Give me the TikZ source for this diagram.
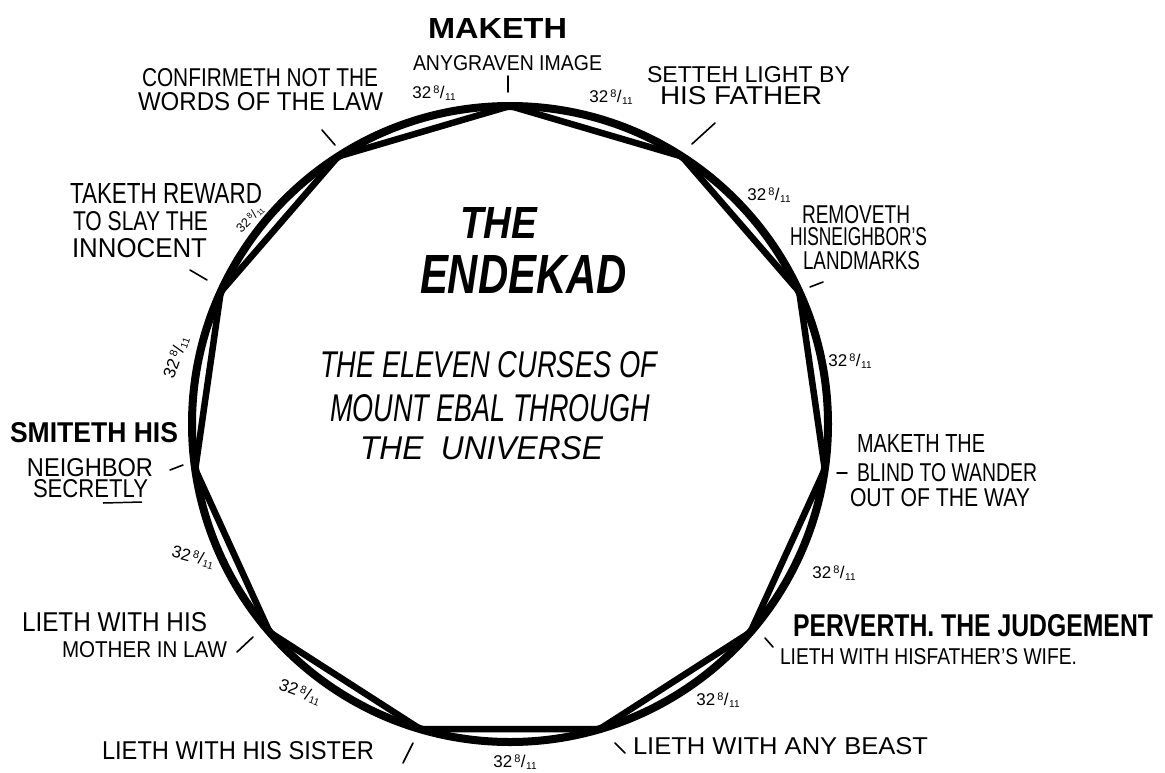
\documentclass[tikz,border=0pt]{standalone}
\usepackage{fontspec}
\setmainfont{Liberation Sans}
\usepackage{graphicx}
\newcommand{\fitbox}[3]{\resizebox{#1pt}{#2pt}{#3}}
\newcommand{\tto}{{\fontsize{17}{17}\selectfont 32\kern2pt\raisebox{5pt}{\fontsize{11}{11}\selectfont 8}\kern0.5pt/\kern0.5pt\raisebox{-2pt}{\fontsize{10}{10}\selectfont 11}}}
\begin{document}
\begin{tikzpicture}[x=1pt,y=-1pt,
  lab/.style={inner sep=0pt,outer sep=0pt,anchor=south west},
  frac/.style={inner sep=0pt,outer sep=0pt},
  ring/.style={line width=8pt},
  poly/.style={line width=6.5pt,line join=round},
  lead/.style={line width=1.6pt,line cap=round}]
\useasboundingbox[fill=white] (0,0) rectangle (1165,772);
\coordinate (c) at (510,424);
\draw[ring] (c) circle[radius=318];
\foreach \k in {0,...,10}
  \coordinate (v\k) at ([shift={(c)}]{\k*360/11-90}:318);
\draw[poly] (v0) \foreach \k in {1,...,10}{ -- (v\k)} -- cycle;

% leaders
\coordinate (t0a) at (508,76);  \coordinate (t0b) at (508,92);
\coordinate (t1a) at (692,144); \coordinate (t1b) at (715,123);
\coordinate (t2a) at (810,287); \coordinate (t2b) at (823,282);
\coordinate (t3a) at (837,473); \coordinate (t3b) at (847,473);
\coordinate (t4a) at (765,638); \coordinate (t4b) at (773,647);
\coordinate (t5a) at (615,743); \coordinate (t5b) at (625,753);
\coordinate (t6a) at (403,763); \coordinate (t6b) at (413,743);
\coordinate (t7a) at (237,652); \coordinate (t7b) at (253,637);
\coordinate (t8a) at (170,470); \coordinate (t8b) at (183,465);
\coordinate (t9a) at (190,270); \coordinate (t9b) at (207,280);
\coordinate (t10a) at (322,130); \coordinate (t10b) at (335,145);
\foreach \k in {0,...,10} \draw[lead] (t\k a) -- (t\k b);

% 32 8/11 labels
\node[frac] (f1) at (434,93) {\tto};
\node[frac] (f2) at (611,97) {\tto};
\node[frac] (f3) at (769,195) {\tto};
\node[frac] (f4) at (850,361) {\tto};
\node[frac] (f5) at (834,573) {\tto};
\node[frac] (f6) at (718,700) {\tto};
\node[frac] (f7) at (515,762) {\tto};
\node[frac,rotate=-20] (f8) at (300,692) {\tto};
\node[frac,rotate=-15] (f9) at (193,557) {\tto};
\node[frac,rotate=70] (f10) at (176,357) {\tto};
\node[frac,rotate=45,scale=0.75] (f11) at (250,219) {\tto};

% top
\node[lab] (mak1) at (428,38) {\fitbox{139}{20}{\bfseries MAKETH}};
\node[lab] (mak2) at (413,71) {\fitbox{189}{15}{ANYGRAVEN IMAGE}};
\node[lab] (con1) at (142,87) {\fitbox{236}{18}{CONFIRMETH NOT THE}};
\node[lab] (con2) at (138,111) {\fitbox{245}{18}{WORDS OF THE LAW}};
\node[lab] (set1) at (647,83) {\fitbox{203}{16}{SETTEH LIGHT BY}};
\node[lab] (set2) at (660,105) {\fitbox{162}{18}{HIS FATHER}};
% right
\node[lab] (rem1) at (802,224) {\fitbox{108}{18}{REMOVETH}};
\node[lab] (rem2) at (790,246) {\fitbox{137}{18}{HISNEIGHBOR'S}};
\node[lab] (rem3) at (803,270) {\fitbox{117}{18}{LANDMARKS}};
\node[lab] (bli1) at (857,452) {\fitbox{128}{18}{MAKETH THE}};
\node[lab] (bli2) at (857,482) {\fitbox{180}{18}{BLIND TO WANDER}};
\node[lab] (bli3) at (850,507) {\fitbox{180}{18}{OUT OF THE WAY}};
\node[lab] (per1) at (793,637) {\fitbox{360}{22}{\bfseries PERVERTH. THE JUDGEMENT}};
\node[lab] (per2) at (780,665) {\fitbox{297}{16}{LIETH WITH HISFATHER'S WIFE.}};
% bottom
\node[lab] (bea) at (633,755) {\fitbox{295}{17}{LIETH WITH ANY BEAST}};
\node[lab] (sis) at (102,760) {\fitbox{272}{18}{LIETH WITH HIS SISTER}};
\node[lab] (mot1) at (22,632) {\fitbox{185}{19}{LIETH WITH HIS}};
\node[lab] (mot2) at (62,658) {\fitbox{165}{16}{MOTHER IN LAW}};
% left
\node[lab] (smi1) at (10,443) {\fitbox{168}{20}{\bfseries SMITETH HIS}};
\node[lab] (smi2) at (27,477) {\fitbox{126}{18}{NEIGHBOR}};
\node[lab] (smi3) at (33,498) {\fitbox{115}{18}{SECRETLY}};
\coordinate (ul1) at (103,503); \coordinate (ul2) at (142,502);
\draw[line width=1.5pt] (ul1) -- (ul2);
\node[lab] (tak1) at (70,203) {\fitbox{192}{20}{TAKETH REWARD}};
\node[lab] (tak2) at (73,231) {\fitbox{135}{19}{TO SLAY THE}};
\node[lab] (tak3) at (72,258) {\fitbox{135}{19}{INNOCENT}};
% centre
\node[lab] (tit1) at (460,238) {\fitbox{77}{31}{\bfseries\itshape THE}};
\node[lab] (tit2) at (420,293) {\fitbox{207}{38}{\bfseries\itshape ENDEKAD}};
\node[lab] (sub1) at (320,378) {\fitbox{337}{26}{\itshape THE ELEVEN CURSES OF}};
\node[lab] (sub2) at (330,422) {\fitbox{320}{27}{\itshape MOUNT EBAL THROUGH}};
\node[lab] (sub3) at (360,460) {\fitbox{243}{23}{\itshape THE\ \ UNIVERSE}};
\end{tikzpicture}
\end{document}
